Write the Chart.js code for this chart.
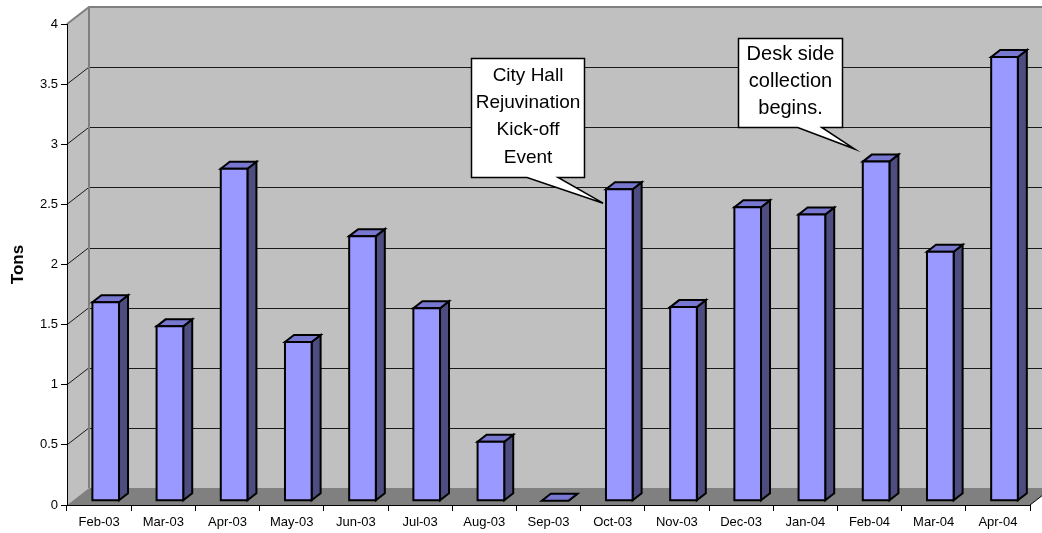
<!DOCTYPE html>
<html>
<head>
<meta charset="utf-8">
<script src="https://cdn.jsdelivr.net/npm/chart.js@4.4.1/dist/chart.umd.min.js"></script>
<style>
html,body{margin:0;padding:0;background:#fff;overflow:hidden}
#wrap{width:1042px;height:533px;position:relative}
</style>
</head>
<body>
<div id="wrap"><canvas id="c" width="1042" height="533"></canvas></div>
<script>
// ---- data ----
const categories = ['Feb-03','Mar-03','Apr-03','May-03','Jun-03','Jul-03','Aug-03','Sep-03','Oct-03','Nov-03','Dec-03','Jan-04','Feb-04','Mar-04','Apr-04'];
const tons = [1.65, 1.45, 2.76, 1.32, 2.20, 1.60, 0.49, 0, 2.59, 1.61, 2.44, 2.38, 2.82, 2.07, 3.69];
const yMin = 0, yMax = 4, yStep = 0.5;
const axisTitle = 'Tons';
const calloutTexts = [
  ['City Hall', 'Rejuvination', 'Kick-off', 'Event'],
  ['Desk side', 'collection', 'begins.']
];
// where each callout's pointer tip lands, in data units (category index, value)
const calloutTipIndex = [7.85, 11.77];
const calloutTipValue = [2.51, 2.96];

// ---- layout / style ----
const FONT = "'Liberation Sans', Arial, Helvetica, sans-serif";
const WALL = {dx: 22, dy: -17};
const BARF = {dx: 6.6, dy: -4.3};
const BARD = {dx: 9, dy: -7};
const COL = {wall:'#C0C0C0', floor:'#808080', edge:'#808080', grid:'#1a1a1a',
             front:'#9999FF', top:'#7878D0', side:'#4D4D80'};
const calloutBoxes = [
  {left:-132, right:-19, top:-145, bottom:-26, b1:-76, b2:-45, font:19},
  {left:-117, right:-13, top:-111, bottom:-22, b1:-57, b2:-33, font:20}
];

const threeD = {
  id: 'threeD',
  beforeDraw(chart) {
    const {ctx, chartArea: a, scales: {x, y}} = chart;
    const L = a.left, R = a.right;
    const T = y.getPixelForValue(yMax), B = y.getPixelForValue(yMin);
    ctx.save();
    ctx.fillStyle = COL.wall;
    ctx.fillRect(L + WALL.dx, T + WALL.dy, R - L, B - T);
    ctx.beginPath();
    ctx.moveTo(L, T); ctx.lineTo(L + WALL.dx, T + WALL.dy);
    ctx.lineTo(L + WALL.dx, B + WALL.dy); ctx.lineTo(L, B); ctx.closePath();
    ctx.fill();
    ctx.fillStyle = COL.floor;
    ctx.beginPath();
    ctx.moveTo(L, B); ctx.lineTo(R, B); ctx.lineTo(R + WALL.dx, B + WALL.dy);
    ctx.lineTo(L + WALL.dx, B + WALL.dy); ctx.closePath();
    ctx.fill();
    ctx.strokeStyle = COL.grid; ctx.lineWidth = 1;
    for (let v = yMin + yStep; v < yMax - 1e-9; v += yStep) {
      const py = y.getPixelForValue(v);
      const by = Math.round(py + WALL.dy) + 0.5;
      ctx.beginPath();
      ctx.moveTo(L + WALL.dx, by); ctx.lineTo(R + WALL.dx + 5, by);
      ctx.stroke();
      ctx.beginPath();
      ctx.moveTo(L, py); ctx.lineTo(L + WALL.dx, py + WALL.dy);
      ctx.stroke();
    }
    ctx.strokeStyle = COL.edge; ctx.lineWidth = 2;
    ctx.beginPath();
    ctx.moveTo(L, T); ctx.lineTo(L + WALL.dx, T + WALL.dy);
    ctx.lineTo(R + WALL.dx + 5, T + WALL.dy);
    ctx.moveTo(L + WALL.dx, T + WALL.dy); ctx.lineTo(L + WALL.dx, B + WALL.dy);
    ctx.stroke();
    ctx.strokeStyle = '#000'; ctx.lineWidth = 1;
    ctx.beginPath();
    ctx.moveTo(R, B); ctx.lineTo(R + WALL.dx, B + WALL.dy);
    ctx.stroke();
    ctx.restore();
  },
  afterDatasetsDraw(chart) {
    const {ctx} = chart;
    const meta = chart.getDatasetMeta(0);
    ctx.save();
    ctx.lineWidth = 2; ctx.strokeStyle = '#000'; ctx.lineJoin = 'miter';
    meta.data.forEach((el) => {
      const w = el.width;
      const x0 = el.x - w / 2 + BARF.dx, x1 = x0 + w;
      const yT = el.y + BARF.dy, yB = el.base + BARF.dy;
      ctx.beginPath();
      ctx.moveTo(x1, yT); ctx.lineTo(x1 + BARD.dx, yT + BARD.dy);
      ctx.lineTo(x1 + BARD.dx, yB + BARD.dy); ctx.lineTo(x1, yB); ctx.closePath();
      ctx.fillStyle = COL.side; ctx.fill(); ctx.stroke();
      ctx.beginPath();
      ctx.moveTo(x0, yT); ctx.lineTo(x0 + BARD.dx, yT + BARD.dy);
      ctx.lineTo(x1 + BARD.dx, yT + BARD.dy); ctx.lineTo(x1, yT); ctx.closePath();
      ctx.fillStyle = COL.top; ctx.fill(); ctx.stroke();
      if (yB - yT > 0.5) {
        ctx.beginPath();
        ctx.rect(x0, yT, w, yB - yT);
        ctx.fillStyle = COL.front; ctx.fill(); ctx.stroke();
      }
    });
    ctx.restore();
  },
  afterDraw(chart) {
    const {ctx, scales: {x, y}} = chart;
    ctx.save();
    calloutTexts.forEach((lines, k) => {
      const tx = x.getPixelForValue(calloutTipIndex[k]);
      const ty = y.getPixelForValue(calloutTipValue[k]);
      const b = calloutBoxes[k];
      const L = Math.round(tx + b.left) + 0.5, R = Math.round(tx + b.right) + 0.5;
      const T = Math.round(ty + b.top) + 0.5, B = Math.round(ty + b.bottom) + 0.5;
      ctx.beginPath();
      ctx.moveTo(L, T); ctx.lineTo(R, T); ctx.lineTo(R, B);
      ctx.lineTo(tx + b.b2, B); ctx.lineTo(tx, ty); ctx.lineTo(tx + b.b1, B);
      ctx.lineTo(L, B); ctx.closePath();
      ctx.fillStyle = '#fff'; ctx.fill();
      ctx.strokeStyle = '#000'; ctx.lineWidth = 1.5; ctx.stroke();
      ctx.fillStyle = '#000';
      ctx.font = b.font + 'px ' + FONT;
      ctx.textAlign = 'center'; ctx.textBaseline = 'middle';
      const lh = 27.3;
      const cy = (T + B) / 2 - 1.5;
      const cx = (L + R) / 2;
      lines.forEach((s, i) => {
        ctx.fillText(s, cx, cy + (i - (lines.length - 1) / 2) * lh);
      });
    });
    ctx.restore();
  }
};

Chart.defaults.font.family = FONT;
Chart.defaults.color = '#000';

new Chart(document.getElementById('c'), {
  type: 'bar',
  data: {
    labels: categories,
    datasets: [{
      label: axisTitle,
      data: tons,
      backgroundColor: 'rgba(0,0,0,0)',
      borderWidth: 0,
      barPercentage: 0.415,
      categoryPercentage: 1
    }]
  },
  options: {
    responsive: false,
    animation: false,
    devicePixelRatio: 1,
    layout: {padding: {top: 24, right: 12, left: 0, bottom: 0}},
    plugins: {legend: {display: false}, tooltip: {enabled: false}},
    scales: {
      x: {
        offset: true,
        grid: {offset: true, drawOnChartArea: false, drawTicks: true, tickLength: 6, color: '#000'},
        border: {color: '#000', width: 1},
        ticks: {font: {size: 13}, padding: 4, maxRotation: 0, autoSkip: false},
        afterFit(s) { s.height = 28; }
      },
      y: {
        min: yMin, max: yMax,
        grid: {drawOnChartArea: false, drawTicks: true, tickLength: 6, color: '#000'},
        border: {color: '#000', width: 1},
        ticks: {stepSize: yStep, font: {size: 13}, padding: 3,
                callback: (v) => String(Math.round(v * 10) / 10)},
        title: {display: true, text: axisTitle, font: {size: 17, weight: 'bold'}, padding: {top: 8, bottom: 0}},
        afterFit(s) { s.width = 67; }
      }
    }
  },
  plugins: [threeD]
});
</script>
</body>
</html>
